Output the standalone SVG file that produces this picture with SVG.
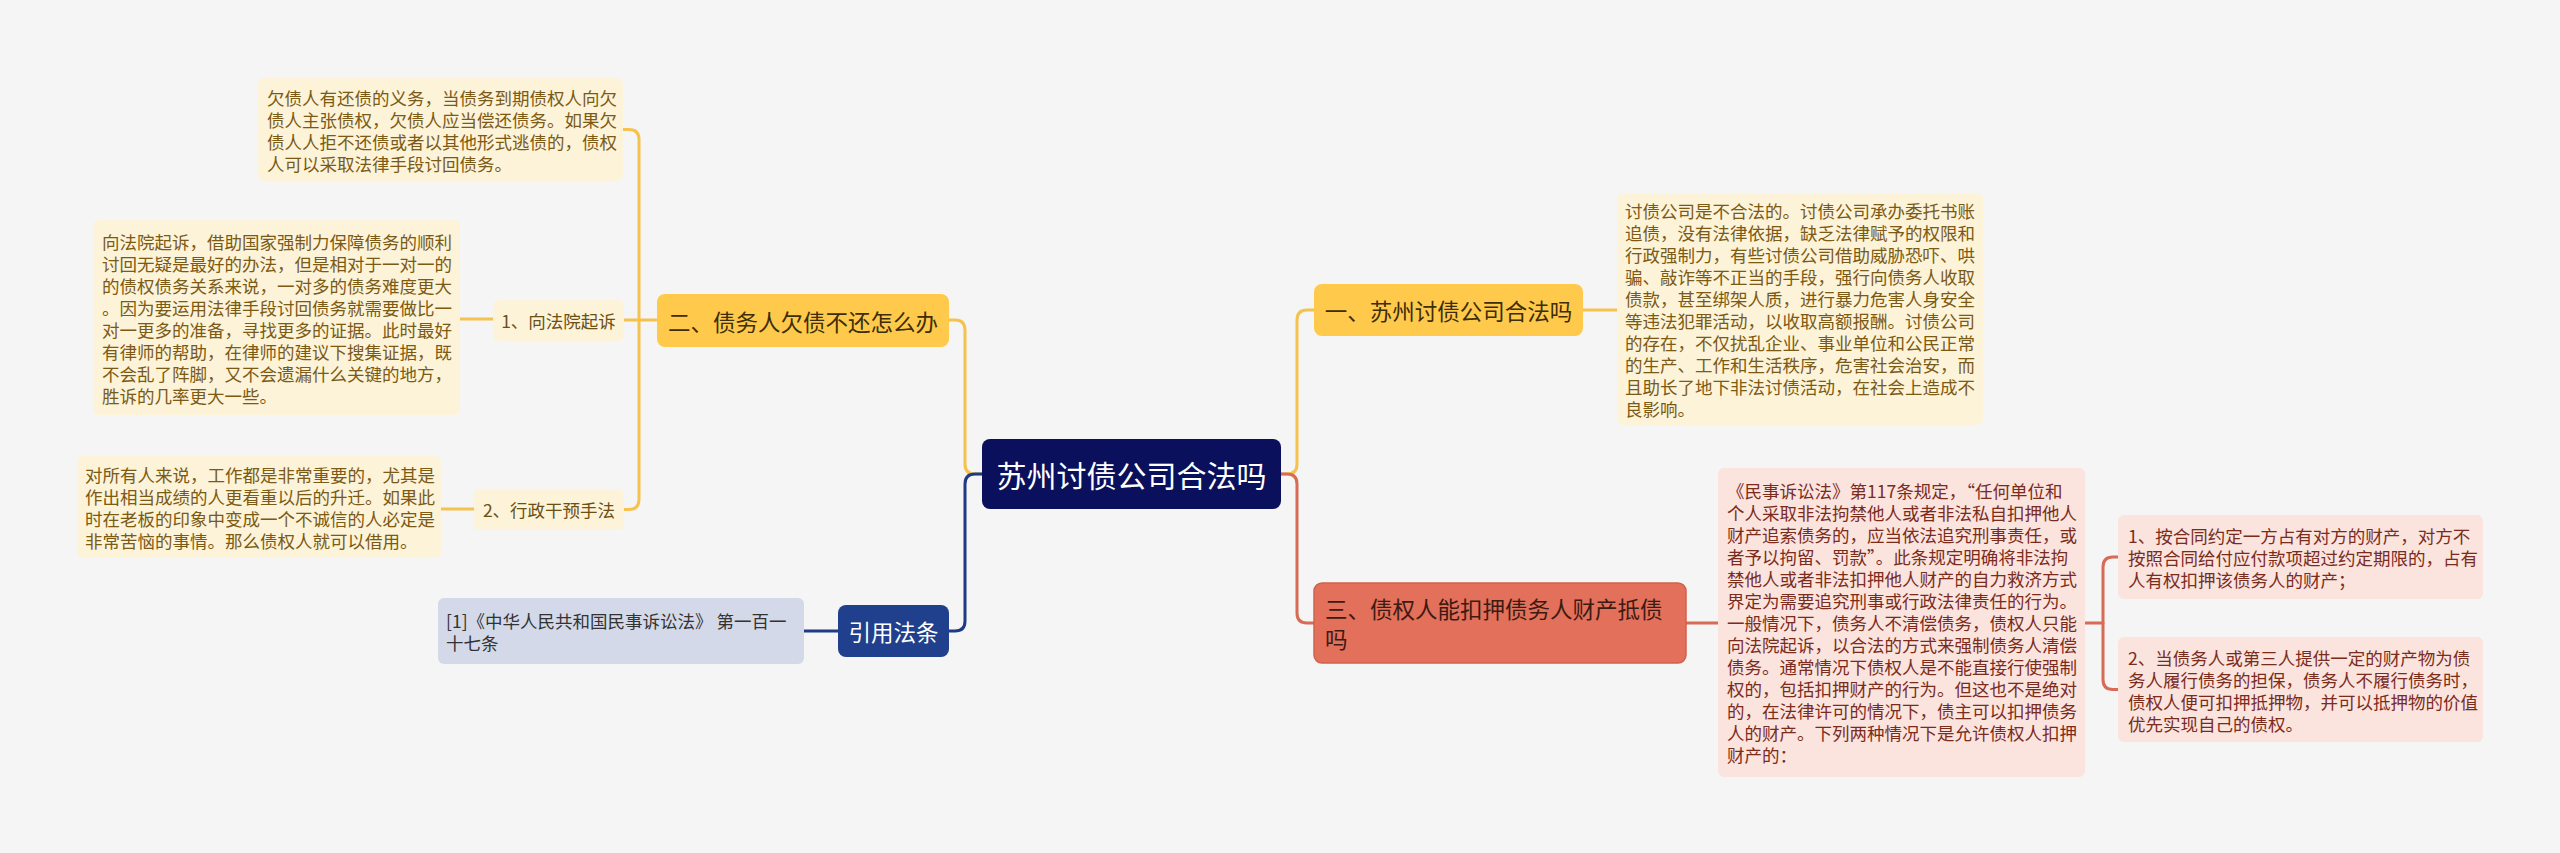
<svg xmlns="http://www.w3.org/2000/svg" width="2560" height="853" viewBox="0 0 2560 853">
<style>
text{font-family:"Noto Sans CJK SC","Noto Sans",sans-serif;dominant-baseline:central}
.lf{font-size:17.5px}
.yl{fill:#fdf3d8}
.yt{fill:#7a5a14}
.rl{fill:#fbe3de}
.rt{fill:#7a2c1c}
.yn{fill:#ffc94c}
.ynt{fill:#3d2d08;font-size:22.5px}
.c{fill:none;stroke-width:3;stroke-linecap:round}
.cy{stroke:#f6c24e}
.cn{stroke:#1f3b86}
.cr{stroke:#d86b55}
</style>
<rect width="2560" height="853" fill="#f5f5f5"/>
<g id="connectors">
<path class="c cy" d="M982,474 H975 Q965,474 965,464 V330 Q965,320 955,320 H949"/>
<path class="c cn" d="M982,474 H975 Q965,474 965,484 V621 Q965,631 955,631 H949"/>
<path class="c cy" d="M1281,474 H1287 Q1297,474 1297,464 V320 Q1297,310 1307,310 H1314"/>
<path class="c cr" d="M1281,474 H1287 Q1297,474 1297,484 V613 Q1297,623 1307,623 H1314"/>
<path class="c cy" d="M657,320 H624"/>
<path class="c cy" d="M623,129.5 H629 Q639,129.5 639,139.5 V499.5 Q639,509.5 629,509.5 H624"/>
<path class="c cy" d="M493,319 H460"/>
<path class="c cy" d="M474,509 H441"/>
<path class="c cn" d="M838,631 H804"/>
<path class="c cy" d="M1583,310 H1617"/>
<path class="c cr" d="M1686,623 H1718"/>
<path class="c cr" d="M2085,623 H2103"/>
<path class="c cr" d="M2118,557 H2113 Q2103,557 2103,567 V679.5 Q2103,689.5 2113,689.5 H2118"/>
</g>
<g id="root">
<rect x="982" y="439" width="299" height="70" rx="8" fill="#0b105c"/>
<text x="1131.5" y="474" text-anchor="middle" fill="#ffffff" font-size="30">苏州讨债公司合法吗</text>
</g>
<g id="b2">
<rect class="yn" x="657" y="294" width="292" height="53" rx="8"/>
<text class="ynt" x="803" y="320.5" text-anchor="middle">二、债务人欠债不还怎么办</text>
</g>
<g id="b2-1">
<rect class="yl" x="493" y="300" width="131" height="41" rx="6"/>
<text class="lf" x="558.5" y="320.5" text-anchor="middle" fill="#6b4f14">1、向法院起诉</text>
</g>
<g id="b2-2">
<rect class="yl" x="474" y="489" width="150" height="41" rx="6"/>
<text class="lf" x="549" y="509.5" text-anchor="middle" fill="#6b4f14">2、行政干预手法</text>
</g>
<g id="leaf-a">
<rect class="yl" x="258" y="78" width="365" height="103" rx="6"/>
<text class="lf yt" x="267"><tspan x="267" y="96.5">欠债人有还债的义务，当债务到期债权人向欠</tspan><tspan x="267" y="118.5">债人主张债权，欠债人应当偿还债务。如果欠</tspan><tspan x="267" y="140.5">债人人拒不还债或者以其他形式逃债的，债权</tspan><tspan x="267" y="162.5">人可以采取法律手段讨回债务。</tspan></text>
</g>
<g id="leaf-b">
<rect class="yl" x="93" y="220" width="367" height="195" rx="6"/>
<text class="lf yt"><tspan x="102" y="240.5">向法院起诉，借助国家强制力保障债务的顺利</tspan><tspan x="102" y="262.5">讨回无疑是最好的办法，但是相对于一对一的</tspan><tspan x="102" y="284.5">的债权债务关系来说，一对多的债务难度更大</tspan><tspan x="102" y="306.5">。因为要运用法律手段讨回债务就需要做比一</tspan><tspan x="102" y="328.5">对一更多的准备，寻找更多的证据。此时最好</tspan><tspan x="102" y="350.5">有律师的帮助，在律师的建议下搜集证据，既</tspan><tspan x="102" y="372.5">不会乱了阵脚，又不会遗漏什么关键的地方，</tspan><tspan x="102" y="394.5">胜诉的几率更大一些。</tspan></text>
</g>
<g id="leaf-c">
<rect class="yl" x="77" y="456" width="364" height="102" rx="6"/>
<text class="lf yt"><tspan x="85" y="474">对所有人来说，工作都是非常重要的，尤其是</tspan><tspan x="85" y="496">作出相当成绩的人更看重以后的升迁。如果此</tspan><tspan x="85" y="518">时在老板的印象中变成一个不诚信的人必定是</tspan><tspan x="85" y="540">非常苦恼的事情。那么债权人就可以借用。</tspan></text>
</g>
<g id="b-cite">
<rect x="838" y="605" width="111" height="52" rx="8" fill="#203f8c"/>
<text x="893.5" y="631" text-anchor="middle" fill="#ffffff" font-size="22.5">引用法条</text>
</g>
<g id="cite">
<rect x="438" y="598" width="366" height="66" rx="6" fill="#d3d9e8"/>
<text class="lf" fill="#333333"><tspan x="446" y="620">[1]《中华人民共和国民事诉讼法》 第一百一</tspan><tspan x="446" y="642">十七条</tspan></text>
</g>
<g id="b1">
<rect class="yn" x="1314" y="284" width="269" height="52" rx="8"/>
<text class="ynt" x="1448.5" y="310" text-anchor="middle">一、苏州讨债公司合法吗</text>
</g>
<g id="leaf-d">
<rect class="yl" x="1617" y="193" width="366" height="232" rx="6"/>
<text class="lf yt"><tspan x="1625" y="210">讨债公司是不合法的。讨债公司承办委托书账</tspan><tspan x="1625" y="232">追债，没有法律依据，缺乏法律赋予的权限和</tspan><tspan x="1625" y="254">行政强制力，有些讨债公司借助威胁恐吓、哄</tspan><tspan x="1625" y="276">骗、敲诈等不正当的手段，强行向债务人收取</tspan><tspan x="1625" y="298">债款，甚至绑架人质，进行暴力危害人身安全</tspan><tspan x="1625" y="320">等违法犯罪活动，以收取高额报酬。讨债公司</tspan><tspan x="1625" y="342">的存在，不仅扰乱企业、事业单位和公民正常</tspan><tspan x="1625" y="364">的生产、工作和生活秩序，危害社会治安，而</tspan><tspan x="1625" y="386">且助长了地下非法讨债活动，在社会上造成不</tspan><tspan x="1625" y="408">良影响。</tspan></text>
</g>
<g id="b3">
<rect x="1314" y="583" width="372" height="80" rx="8" fill="#e2705a" stroke="#d0614c" stroke-width="1.5"/>
<text font-size="22.5" fill="#3d1a12"><tspan x="1325" y="608">三、债权人能扣押债务人财产抵债</tspan><tspan x="1325" y="638">吗</tspan></text>
</g>
<g id="leaf-e">
<rect class="rl" x="1718" y="468" width="367" height="309" rx="6"/>
<text class="lf rt"><tspan x="1727" y="490">《民事诉讼法》第117条规定，“任何单位和</tspan><tspan x="1727" y="512">个人采取非法拘禁他人或者非法私自扣押他人</tspan><tspan x="1727" y="534">财产追索债务的，应当依法追究刑事责任，或</tspan><tspan x="1727" y="556">者予以拘留、罚款”。此条规定明确将非法拘</tspan><tspan x="1727" y="578">禁他人或者非法扣押他人财产的自力救济方式</tspan><tspan x="1727" y="600">界定为需要追究刑事或行政法律责任的行为。</tspan><tspan x="1727" y="622">一般情况下，债务人不清偿债务，债权人只能</tspan><tspan x="1727" y="644">向法院起诉，以合法的方式来强制债务人清偿</tspan><tspan x="1727" y="666">债务。通常情况下债权人是不能直接行使强制</tspan><tspan x="1727" y="688">权的，包括扣押财产的行为。但这也不是绝对</tspan><tspan x="1727" y="710">的，在法律许可的情况下，债主可以扣押债务</tspan><tspan x="1727" y="732">人的财产。下列两种情况下是允许债权人扣押</tspan><tspan x="1727" y="754">财产的：</tspan></text>
</g>
<g id="leaf-f">
<rect class="rl" x="2118" y="515" width="365" height="84" rx="6"/>
<text class="lf rt"><tspan x="2128" y="535">1、按合同约定一方占有对方的财产，对方不</tspan><tspan x="2128" y="557">按照合同给付应付款项超过约定期限的，占有</tspan><tspan x="2128" y="579">人有权扣押该债务人的财产；</tspan></text>
</g>
<g id="leaf-g">
<rect class="rl" x="2118" y="637" width="365" height="105" rx="6"/>
<text class="lf rt"><tspan x="2128" y="656.5">2、当债务人或第三人提供一定的财产物为债</tspan><tspan x="2128" y="678.5">务人履行债务的担保，债务人不履行债务时，</tspan><tspan x="2128" y="700.5">债权人便可扣押抵押物，并可以抵押物的价值</tspan><tspan x="2128" y="722.5">优先实现自己的债权。</tspan></text>
</g>
</svg>
